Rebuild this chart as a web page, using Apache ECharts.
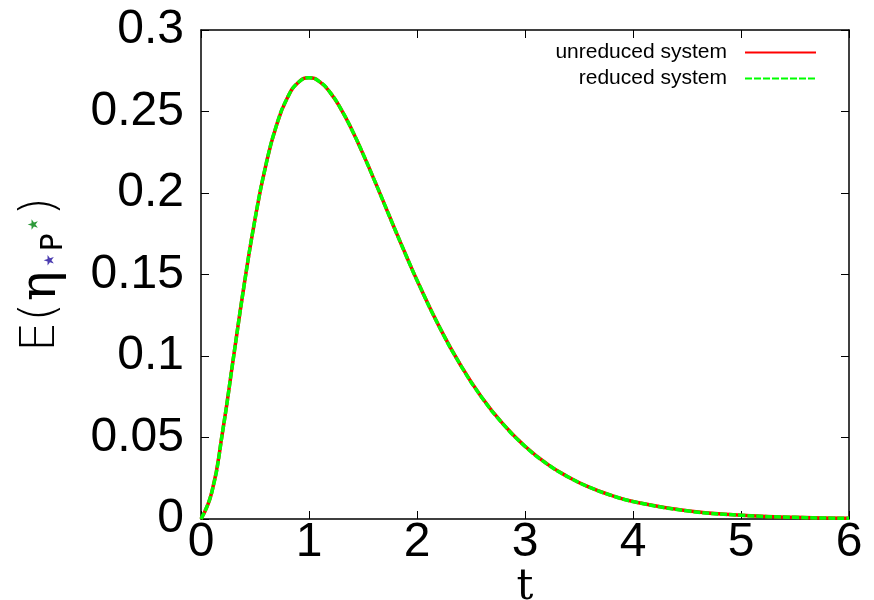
<!DOCTYPE html>
<html>
<head>
<meta charset="utf-8">
<script src="https://cdn.jsdelivr.net/npm/echarts@6/dist/echarts.min.js"></script>
<style>
  html, body { margin: 0; padding: 0; background: #fff; }
  #chart { width: 874px; height: 600px; }
</style>
</head>
<body>
<div id="chart"></div>
<script>
  // time points
  var tValues = [0, 0.1, 0.2, 0.3, 0.4, 0.5, 0.6, 0.7, 0.8, 0.9, 1.0,
                 1.1, 1.2, 1.3, 1.4, 1.5, 1.6, 1.7, 1.8, 1.9, 2.0,
                 2.2, 2.4, 2.6, 2.8, 3.0, 3.2, 3.4, 3.6, 3.8, 4.0,
                 4.5, 5.0, 5.5, 6.0];
  var unreduced = [0, 0.0164, 0.0536, 0.0988, 0.1438, 0.1839, 0.2169, 0.2417, 0.2584, 0.2678, 0.2707,
                   0.2682, 0.2613, 0.2510, 0.2384, 0.2240, 0.2087, 0.1929, 0.1770, 0.1615, 0.1465,
                   0.1188, 0.0948, 0.0746, 0.0580, 0.0446, 0.0340, 0.0258, 0.0194, 0.0145, 0.0107,
                   0.0050, 0.0023, 0.0010, 0.0004];
  var reduced = [0, 0.0164, 0.0536, 0.0988, 0.1438, 0.1839, 0.2169, 0.2417, 0.2584, 0.2678, 0.2707,
                 0.2682, 0.2613, 0.2510, 0.2384, 0.2240, 0.2087, 0.1929, 0.1770, 0.1615, 0.1465,
                 0.1188, 0.0948, 0.0746, 0.0580, 0.0446, 0.0340, 0.0258, 0.0194, 0.0145, 0.0107,
                 0.0050, 0.0023, 0.0010, 0.0004];
  var seriesNames = ['unreduced system', 'reduced system'];

  function pairs(xs, ys) {
    return xs.map(function (x, i) { return [x, ys[i]]; });
  }

  var chart = echarts.init(document.getElementById('chart'), null, { renderer: 'canvas' });

  var axisLine = { show: true, onZero: false, lineStyle: { color: '#000', width: 1.5 } };
  var tick = { show: true, inside: true, length: 8, lineStyle: { color: '#000', width: 1 } };
  var sans = 'Liberation Sans';

  function legendFor(name, top) {
    return {
      data: [name],
      right: 57, top: top, padding: 0,
      align: 'right',
      itemWidth: 71, itemHeight: 14,
      itemStyle: { opacity: 0 },
      textStyle: { fontFamily: sans, fontSize: 21, color: '#000', padding: [0, 13, 0, 0] }
    };
  }

  var option = {
    animation: false,
    backgroundColor: '#fff',
    grid: { left: 201, right: 25, top: 30, bottom: 81, outerBoundsMode: 'none', containLabel: false },
    legend: [legendFor(seriesNames[0], 42), legendFor(seriesNames[1], 68)],
    xAxis: [
      {
        type: 'value', min: 0, max: 6, interval: 1,
        axisLine: axisLine, axisTick: tick, splitLine: { show: false },
        axisLabel: { fontFamily: sans, fontSize: 48, color: '#000', margin: 0 },
        name: 't', nameLocation: 'middle', nameGap: 48, nameMoveOverlap: false,
        nameTextStyle: { fontFamily: 'DejaVu Serif', fontSize: 42, color: '#000' }
      },
      {
        type: 'value', min: 0, max: 6, interval: 1, position: 'top',
        axisLine: axisLine, axisTick: tick, splitLine: { show: false },
        axisLabel: { show: false }
      }
    ],
    yAxis: [
      {
        type: 'value', min: 0, max: 0.3, interval: 0.05,
        axisLine: axisLine, axisTick: tick, splitLine: { show: false },
        axisLabel: { fontFamily: sans, fontSize: 48, color: '#000', margin: 17 },
        name: '{a|E(}{b|η}{s1|⋆}{p|P}{s2|⋆}{a|)}',
        nameLocation: 'middle', nameRotate: 90, nameGap: 134, nameMoveOverlap: false,
        nameTextStyle: {
          rich: {
            a: { fontFamily: 'DejaVu Sans', fontWeight: 200, fontSize: 48, color: '#000' },
            b: { fontFamily: 'DejaVu Serif', fontSize: 50, color: '#000', padding: [0, 2, 0, 2] },
            s1: { fontFamily: 'DejaVu Sans', fontSize: 28, color: '#4b3cb0', verticalAlign: 'bottom', padding: [0, 0, 2, 0] },
            p: { fontFamily: 'DejaVu Sans', fontSize: 30, color: '#000', verticalAlign: 'bottom', padding: [0, 0, -2, 0] },
            s2: { fontFamily: 'DejaVu Sans', fontSize: 28, color: '#2e9a3a', verticalAlign: 'bottom', padding: [0, 0, 18, 0] }
          }
        }
      },
      {
        type: 'value', min: 0, max: 0.3, interval: 0.05, position: 'right',
        axisLine: axisLine, axisTick: tick, splitLine: { show: false },
        axisLabel: { show: false }
      }
    ],
    series: [
      {
        name: seriesNames[0], type: 'line', smooth: true,
        symbol: 'none', data: pairs(tValues, unreduced),
        color: '#ff0000',
        lineStyle: { color: '#ff0000', width: 3.5, type: 'solid' }
      },
      {
        name: seriesNames[1], type: 'line', smooth: true,
        symbol: 'none', data: pairs(tValues, reduced),
        color: '#00ff00',
        lineStyle: { color: '#00ff00', width: 3.5, type: [7, 2] }
      }
    ]
  };

  chart.setOption(option);
</script>
</body>
</html>
